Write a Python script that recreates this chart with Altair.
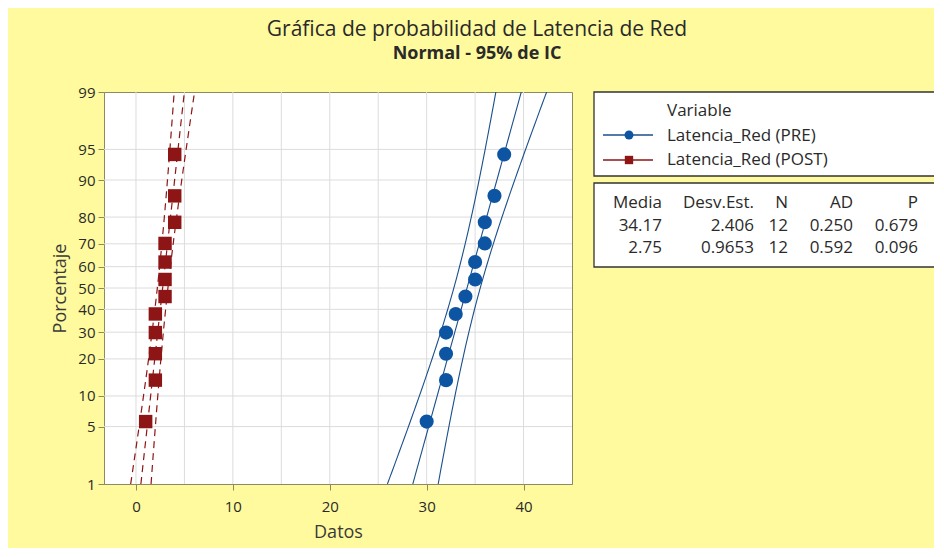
import altair as alt
import pandas as pd
import numpy as np
from statistics import NormalDist, mean, stdev

# ---------------- data ----------------
series_names = ["Latencia_Red (PRE)", "Latencia_Red (POST)"]
pre_values = [30, 32, 32, 32, 33, 34, 35, 35, 36, 36, 37, 38]
post_values = [1, 2, 2, 2, 2, 3, 3, 3, 3, 4, 4, 4]
percent_ticks = [1, 5, 10, 20, 30, 40, 50, 60, 70, 80, 90, 95, 99]
x_ticks = [0, 10, 20, 30, 40]
x_grid = [0, 5, 10, 15, 20, 25, 30, 35, 40]
table_header = ["Media", "Desv.Est.", "N", "AD", "P"]
table_pre = ["34.17", "2.406", "12", "0.250", "0.679"]
table_post = ["2.75", "0.9653", "12", "0.592", "0.096"]

FONT = "Open Sans"
BLUE = "#0D55A2"
BLUE_LINE = "#1A4F8C"
RED = "#8E1515"
BG = "#FFFA9E"
TXT = "#2a2a2a"

nd = NormalDist()
Z_LO, Z_HI = nd.inv_cdf(0.01), nd.inv_cdf(0.99)
X_DOMAIN = [-3.3, 45]

# probability plot positions (median ranks) and 95% CI bands
pts_rows, fit_rows = [], []
for name, vals in zip(series_names, [pre_values, post_values]):
    s = sorted(vals)
    n = len(s)
    for i, v in enumerate(s):
        pts_rows.append({"serie": name, "x": v, "z": nd.inv_cdf((i + 1 - 0.3) / (n + 0.4))})
    m, sd = mean(vals), stdev(vals)
    for z in np.linspace(Z_LO, Z_HI, 60):
        c = m + sd * z
        h = 1.959964 * sd * np.sqrt(1.0 / n + z * z / (2.0 * n))
        for kind, xv in (("fit", c), ("lo", c - h), ("hi", c + h)):
            fit_rows.append({"serie": name, "kind": kind, "z": float(z), "x": float(xv)})
pts = pd.DataFrame(pts_rows)
fit = pd.DataFrame(fit_rows)

xs = alt.Scale(domain=X_DOMAIN, nice=False, zero=False)
ys = alt.Scale(domain=[Z_LO, Z_HI], nice=False, zero=False)

z_ticks = [nd.inv_cdf(p / 100.0) for p in percent_ticks]

X_AXIS = alt.Axis(values=x_ticks, grid=False, format="d", labelOverlap=False)
Y_AXIS = alt.Axis(values=z_ticks, grid=False, labelOverlap=False,
                  labelExpr="format(round(cumulativeNormal(datum.value)*100), 'd')")


def X(field):
    return alt.X(field, type="quantitative", scale=xs, title="Datos", axis=X_AXIS)


def Y(field):
    return alt.Y(field, type="quantitative", scale=ys, title="Porcentaje", axis=Y_AXIS)


# grid lines
vgrid = alt.Chart(pd.DataFrame({"g": x_grid})).mark_rule(color="#dcdcdc", strokeWidth=1).encode(
    x=X("g")
)
hgrid = alt.Chart(pd.DataFrame({"g": z_ticks[1:-1]})).mark_rule(color="#dcdcdc", strokeWidth=1).encode(
    y=Y("g")
)

blue_lines = alt.Chart(fit[fit.serie == series_names[0]]).mark_line(
    color=BLUE_LINE, strokeWidth=1.1, clip=True
).encode(x=X("x"), y=Y("z"), detail="kind:N", order="z:Q")
red_lines = alt.Chart(fit[fit.serie == series_names[1]]).mark_line(
    color=RED, strokeWidth=1.2, strokeDash=[7, 5], clip=True
).encode(x=X("x"), y=Y("z"), detail="kind:N", order="z:Q")

pre_pts = alt.Chart(pts[pts.serie == series_names[0]]).mark_point(
    shape="circle", filled=True, size=200, opacity=1, color=BLUE
).encode(x=X("x"), y=Y("z"))
post_pts = alt.Chart(pts[pts.serie == series_names[1]]).mark_point(
    shape="square", filled=True, size=180, opacity=1, color=RED
).encode(x=X("x"), y=Y("z"))

one = pd.DataFrame({"a": [0]})
FS = 17


def txt(s, x, y, align="left", size=FS, weight="normal"):
    return alt.Chart(one).mark_text(
        text=s, align=align, baseline="middle", fontSize=size, font=FONT,
        color=TXT, fontWeight=weight
    ).encode(x=alt.value(x), y=alt.value(y))


def box(x1, x2, y1, y2):
    return alt.Chart(one).mark_rect(fill="white", stroke="#333333", strokeWidth=1.3).encode(
        x=alt.value(x1), x2=alt.value(x2), y=alt.value(y1), y2=alt.value(y2)
    )


# legend box and statistics table
legend_layers = [
    box(490, 831, 0, 84),
    box(490, 831, 91, 175),
    txt("Variable", 563, 19),
    txt(series_names[0], 563, 44),
    txt(series_names[1], 563, 68),
    alt.Chart(one).mark_rule(color=BLUE_LINE, strokeWidth=1.4).encode(
        x=alt.value(499), x2=alt.value(549), y=alt.value(43)),
    alt.Chart(one).mark_point(shape="circle", filled=True, size=80, opacity=1, color=BLUE).encode(
        x=alt.value(525), y=alt.value(43)),
    alt.Chart(one).mark_rule(color=RED, strokeWidth=1.4).encode(
        x=alt.value(499), x2=alt.value(549), y=alt.value(68)),
    alt.Chart(one).mark_point(shape="square", filled=True, size=70, opacity=1, color=RED).encode(
        x=alt.value(525), y=alt.value(68)),
]
col_right = [558, 650, 684, 749, 814]
for j, cx in enumerate(col_right):
    legend_layers.append(txt(table_header[j], cx, 111, align="right"))
    legend_layers.append(txt(table_pre[j], cx, 134, align="right"))
    legend_layers.append(txt(table_post[j], cx, 156, align="right"))

chart = alt.layer(
    vgrid, hgrid, blue_lines, red_lines, pre_pts, post_pts, *legend_layers
).properties(
    width=468, height=392,
    autosize=alt.AutoSizeParams(type="none"),
    padding={"left": 96, "top": 84, "right": 362, "bottom": 64},
    background=BG,
    title=alt.TitleParams(
        text="Gráfica de probabilidad de Latencia de Red",
        subtitle="Normal - 95% de IC",
        anchor="middle", dx=139, offset=22,
        fontSize=21, font=FONT, fontWeight="normal", color=TXT,
        subtitleFontSize=18, subtitleFont=FONT, subtitleFontWeight="bold",
        subtitleColor=TXT, subtitlePadding=5,
    ),
).configure_view(
    fill="white", stroke="#8c8a60", strokeWidth=1
).configure_axis(
    domainColor="#8c8a60", tickColor="#8c8a60", tickSize=6,
    labelFont=FONT, labelFontSize=15, labelColor=TXT, labelPadding=3,
    titleFont=FONT, titleFontSize=18, titleColor="#3a3a3a", titleFontWeight="normal",
).configure_axisX(labelPadding=9, titlePadding=9).configure_axisY(titlePadding=8)

chart.save("out.html", embed_options={"renderer": "svg", "actions": False})
